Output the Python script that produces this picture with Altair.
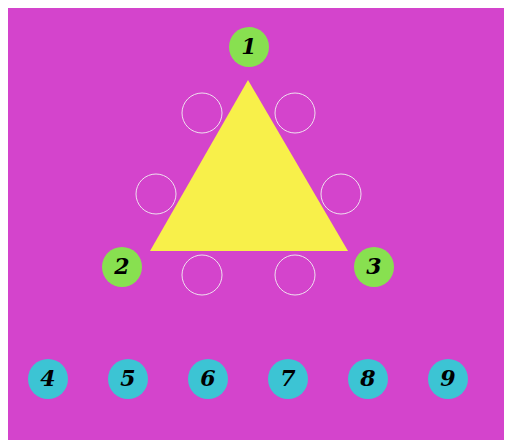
import altair as alt
import pandas as pd

# triangle outline (x, top y), bottom edge at base_y
tri_x = [150, 248, 348]
tri_y = [251, 80, 251]
base_y = 251

# numbered green nodes at the corners
green_labels = ["1", "2", "3"]
green_x = [249, 122, 374]
green_y = [47, 267, 267]

# empty slots along the edges
slot_x = [202, 295, 156, 341, 202, 295]
slot_y = [113, 113, 194, 194, 275, 275]

# cyan pieces at the bottom
cyan_labels = ["4", "5", "6", "7", "8", "9"]
cyan_x = [48, 128, 208, 288, 368, 448]
cyan_y = [379] * 6

X = alt.Scale(domain=[8, 504], nice=False, zero=False)
Y = alt.Scale(domain=[440, 8], nice=False, zero=False)
size = 1600

tri = pd.DataFrame({"x": tri_x, "y": tri_y, "y2": [base_y] * 3})
green = pd.DataFrame({"x": green_x, "y": green_y, "t": green_labels})
slots = pd.DataFrame({"x": slot_x, "y": slot_y})
cyan = pd.DataFrame({"x": cyan_x, "y": cyan_y, "t": cyan_labels})

def enc(ch):
    return ch.encode(x=alt.X("x:Q", scale=X, axis=None),
                     y=alt.Y("y:Q", scale=Y, axis=None))

triangle = alt.Chart(tri).mark_area(color="#f8f04a", opacity=1).encode(
    x=alt.X("x:Q", scale=X, axis=None),
    y=alt.Y("y:Q", scale=Y, axis=None),
    y2="y2:Q",
)
slot_marks = enc(alt.Chart(slots).mark_circle(size=size, fillOpacity=0, stroke="#f0e0f0", strokeWidth=1))
green_marks = enc(alt.Chart(green).mark_circle(size=size, color="#88e050", opacity=1))
cyan_marks = enc(alt.Chart(cyan).mark_circle(size=size, color="#3cc4d4", opacity=1))
text_style = dict(font="DejaVu Serif", fontSize=22, fontWeight="bold", fontStyle="italic", color="black")
green_text = enc(alt.Chart(green).mark_text(**text_style)).encode(text="t:N")
cyan_text = enc(alt.Chart(cyan).mark_text(**text_style)).encode(text="t:N")

chart = alt.layer(triangle, slot_marks, green_marks, cyan_marks, green_text, cyan_text).properties(
    width=496, height=432, background="#d444cc", padding=0, autosize="none"
).configure_view(stroke=None)

chart.save("out.html", embed_options={"renderer": "svg", "actions": False})
